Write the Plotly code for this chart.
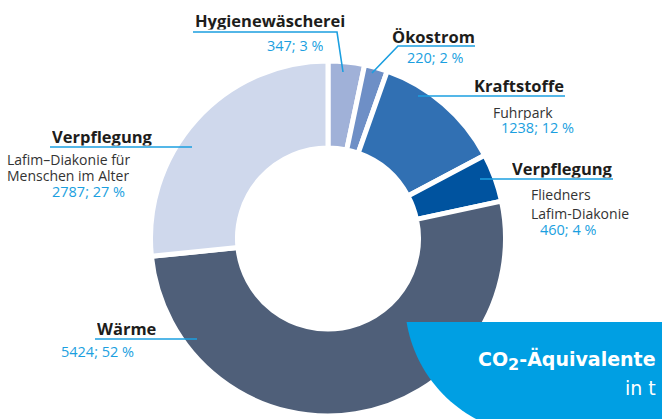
import numpy as np
import plotly.graph_objects as go

W, H = 662, 419

# ---- data ----
categories = ["Hygienewäscherei", "Ökostrom", "Kraftstoffe", "Verpflegung", "Wärme", "Verpflegung"]
subtitle_lines = [[], [], ["Fuhrpark"], ["Fliedners", "Lafim-Diakonie"], [], ["Lafim–Diakonie für", "Menschen im Alter"]]
values = [347, 220, 1238, 460, 5424, 2787]
percents = [3, 2, 12, 4, 52, 27]
colors = ["#a0b1d8", "#6e8fc6", "#3170b3", "#00539f", "#4f5f79", "#cfd8ec"]

value_labels = [f"{v}; {p} %" for v, p in zip(values, percents)]

def px(x):
    return x / W

def py(y):
    return 1 - y / H

# pie geometry (pixels)
cx, cy, r = 328, 238.5, 177.5

fig = go.Figure()
fig.add_trace(go.Pie(
    labels=[f"{c} {i}" for i, c in enumerate(categories)],
    values=values,
    sort=False,
    direction="clockwise",
    rotation=0,
    hole=0.51,
    marker=dict(colors=colors, line=dict(color="white", width=5)),
    textinfo="none",
    hoverinfo="skip",
    showlegend=False,
    domain=dict(x=[px(cx - r), px(cx + r)], y=[py(cy + r), py(cy - r)]),
))

BLUE = "#1b9fe0"
DARK = "#1d1d1b"
GRAY = "#333333"
FONT = "Open Sans"

annotations = []
shapes = []

def text(x, y, s, size, color, bold=False, anchor="left", family=FONT):
    annotations.append(dict(
        x=px(x), y=py(y), xref="paper", yref="paper", text=(f"<b>{s}</b>" if bold else s),
        showarrow=False, xanchor=anchor, yanchor="middle", align=anchor,
        height=size + 1,
        font=dict(family=family, size=size, color=color),
    ))

def line(points, color=BLUE, width=1.6):
    d = "M " + " L ".join(f"{px(a)},{py(b)}" for a, b in points)
    shapes.append(dict(type="path", xref="paper", yref="paper", path=d,
                       line=dict(color=color, width=width)))

HS = 16.5  # heading size
SS = 14    # subtitle size
VS = 14.5  # value size

# Hygienewäscherei
text(193, 21, categories[0], HS, DARK, bold=True)
text(326, 46, value_labels[0], VS, BLUE, anchor="right")
line([(193, 32), (337, 32), (343, 72)])

# Ökostrom
text(390, 37, categories[1], HS, DARK, bold=True)
text(405, 58, value_labels[1], VS, BLUE)
line([(475, 46), (398, 46), (372, 73)])

# Kraftstoffe
text(472, 86, categories[2], HS, DARK, bold=True)
text(491, 112, subtitle_lines[2][0], SS, GRAY)
text(499, 128, value_labels[2], VS, BLUE)
line([(418, 96), (565, 96)])

# Verpflegung (Fliedners)
text(510, 168.5, categories[3], HS, DARK, bold=True)
text(529, 194, subtitle_lines[3][0], SS, GRAY)
text(529, 213, subtitle_lines[3][1], SS, GRAY)
text(538, 230, value_labels[3], VS, BLUE)
line([(480, 179), (613, 179)])

# Verpflegung (Lafim)
text(50, 136.5, categories[5], HS, DARK, bold=True)
text(5, 159.5, subtitle_lines[5][0], SS, GRAY)
text(5, 175.5, subtitle_lines[5][1], SS, GRAY)
text(50, 192, value_labels[5], VS, BLUE)
line([(50, 147), (192, 147)])

# Wärme
text(95, 328.5, categories[4], HS, DARK, bold=True)
text(59, 352, value_labels[4], VS, BLUE)
line([(95, 339), (197, 339)])

# Banner with curved left edge (circle centre 539,300 r 134.5)
bc_x, bc_y, br = 539.3, 300.3, 134.5
t0 = np.arcsin((322 - bc_y) / br)
ts = np.linspace(t0, np.pi / 2, 40)
arc = [(bc_x - br * np.cos(t), bc_y + br * np.sin(t)) for t in ts]
pts = [(W + 5, 322)] + arc + [(W + 5, bc_y + br)]
d = "M " + " L ".join(f"{px(a)},{py(b)}" for a, b in pts) + " Z"
shapes.append(dict(type="path", xref="paper", yref="paper", path=d,
                   fillcolor="#009fe3", line=dict(width=0), layer="above"))

BANNER_FONT = "DejaVu Sans"
annotations.append(dict(
    x=px(658), y=py(360), xref="paper", yref="paper",
    text="<b>CO<sub><span style=\"font-size:16px\">2</span></sub>-Äquivalente</b>", showarrow=False,
    xanchor="right", yanchor="middle", align="right",
    font=dict(family=BANNER_FONT, size=19, color="white"),
))
annotations.append(dict(
    x=px(658), y=py(388), xref="paper", yref="paper",
    text="in t", showarrow=False,
    xanchor="right", yanchor="middle", align="right",
    font=dict(family=BANNER_FONT, size=19, color="white"),
))

fig.update_layout(
    width=W, height=H,
    margin=dict(l=0, r=0, t=0, b=0),
    paper_bgcolor="white", plot_bgcolor="white",
    shapes=shapes, annotations=annotations,
    showlegend=False,
)

fig.write_html(
    "out.html",
    config={"displayModeBar": False},
    post_script="document.body.style.margin='0';document.body.style.overflow='hidden';",
)
